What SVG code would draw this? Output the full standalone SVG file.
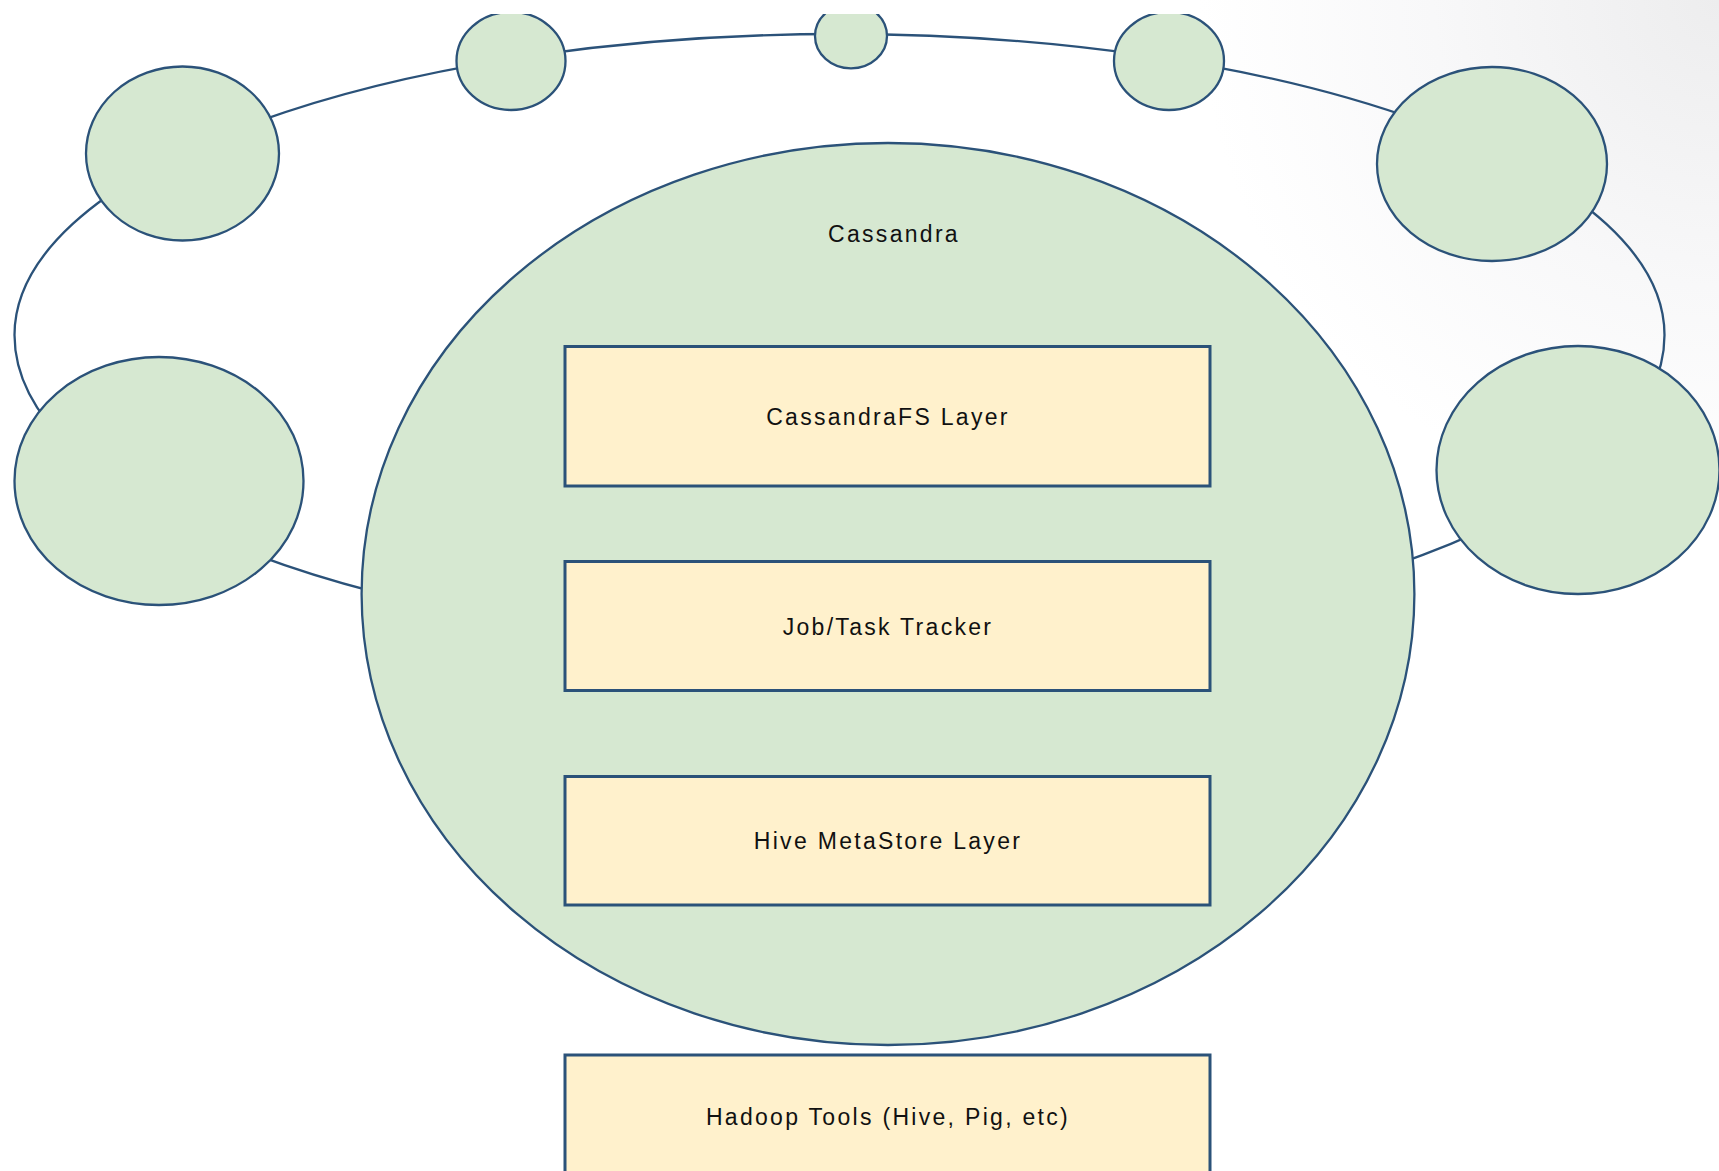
<svg xmlns="http://www.w3.org/2000/svg" width="1719" height="1171" viewBox="0 0 1719 1171">
<defs>
<radialGradient id="shade" cx="1719" cy="0" r="520" gradientUnits="userSpaceOnUse">
<stop offset="0" stop-color="#ededee"/>
<stop offset="0.55" stop-color="#f8f8f9"/>
<stop offset="1" stop-color="#ffffff"/>
</radialGradient>
<clipPath id="clipTop"><rect x="0" y="14" width="1719" height="1157"/></clipPath>
</defs>
<style>
.node{fill:#d6e8d1;stroke:#2b5279;stroke-width:2.3}
.box{fill:#fff1cc;stroke:#2b5279;stroke-width:3}
.ring{fill:none;stroke:#2b5279;stroke-width:2.3}
.lbl{font-family:"Liberation Sans",Arial,sans-serif;font-size:23px;letter-spacing:2.3px;fill:#111;text-anchor:middle}
</style>
<rect x="0" y="0" width="1719" height="1171" fill="url(#shade)"/>
<g clip-path="url(#clipTop)">
<g id="connectors">
<path class="ring" d="M 14.5 335 A 825 301 0 0 1 1664.5 335 A 825 311 0 0 1 14.5 335 Z"/>
</g>
<g id="node-top-left-small"><ellipse class="node" cx="511" cy="61" rx="54.5" ry="49"/></g>
<g id="node-top-middle"><ellipse class="node" cx="851" cy="36" rx="36" ry="32.3"/></g>
<g id="node-top-right-small"><ellipse class="node" cx="1169" cy="61" rx="55" ry="49"/></g>
<g id="node-left-top"><ellipse class="node" cx="182.5" cy="153.5" rx="96.5" ry="87"/></g>
<g id="node-right-top"><ellipse class="node" cx="1492" cy="164" rx="115" ry="97"/></g>
<g id="node-left-bottom"><ellipse class="node" cx="159" cy="481" rx="144.5" ry="124"/></g>
<g id="node-right-bottom"><ellipse class="node" cx="1578" cy="470" rx="141.5" ry="124"/></g>
<g id="node-cassandra">
<ellipse class="node" cx="888" cy="594" rx="526.4" ry="451"/>
<text class="lbl" x="894" y="242">Cassandra</text>
</g>
<g id="node-cassandrafs">
<rect class="box" x="565" y="346.5" width="645" height="139.5"/>
<text class="lbl" x="888" y="425">CassandraFS Layer</text>
</g>
<g id="node-jobtracker">
<rect class="box" x="565" y="561.5" width="645" height="129"/>
<text class="lbl" x="888" y="635">Job/Task Tracker</text>
</g>
<g id="node-hive-metastore">
<rect class="box" x="565" y="776.5" width="645" height="128.5"/>
<text class="lbl" x="888" y="849">Hive MetaStore Layer</text>
</g>
<g id="node-hadoop-tools">
<rect class="box" x="565" y="1055" width="645" height="140"/>
<text class="lbl" x="888" y="1125">Hadoop Tools (Hive, Pig, etc)</text>
</g>
</g>
</svg>
